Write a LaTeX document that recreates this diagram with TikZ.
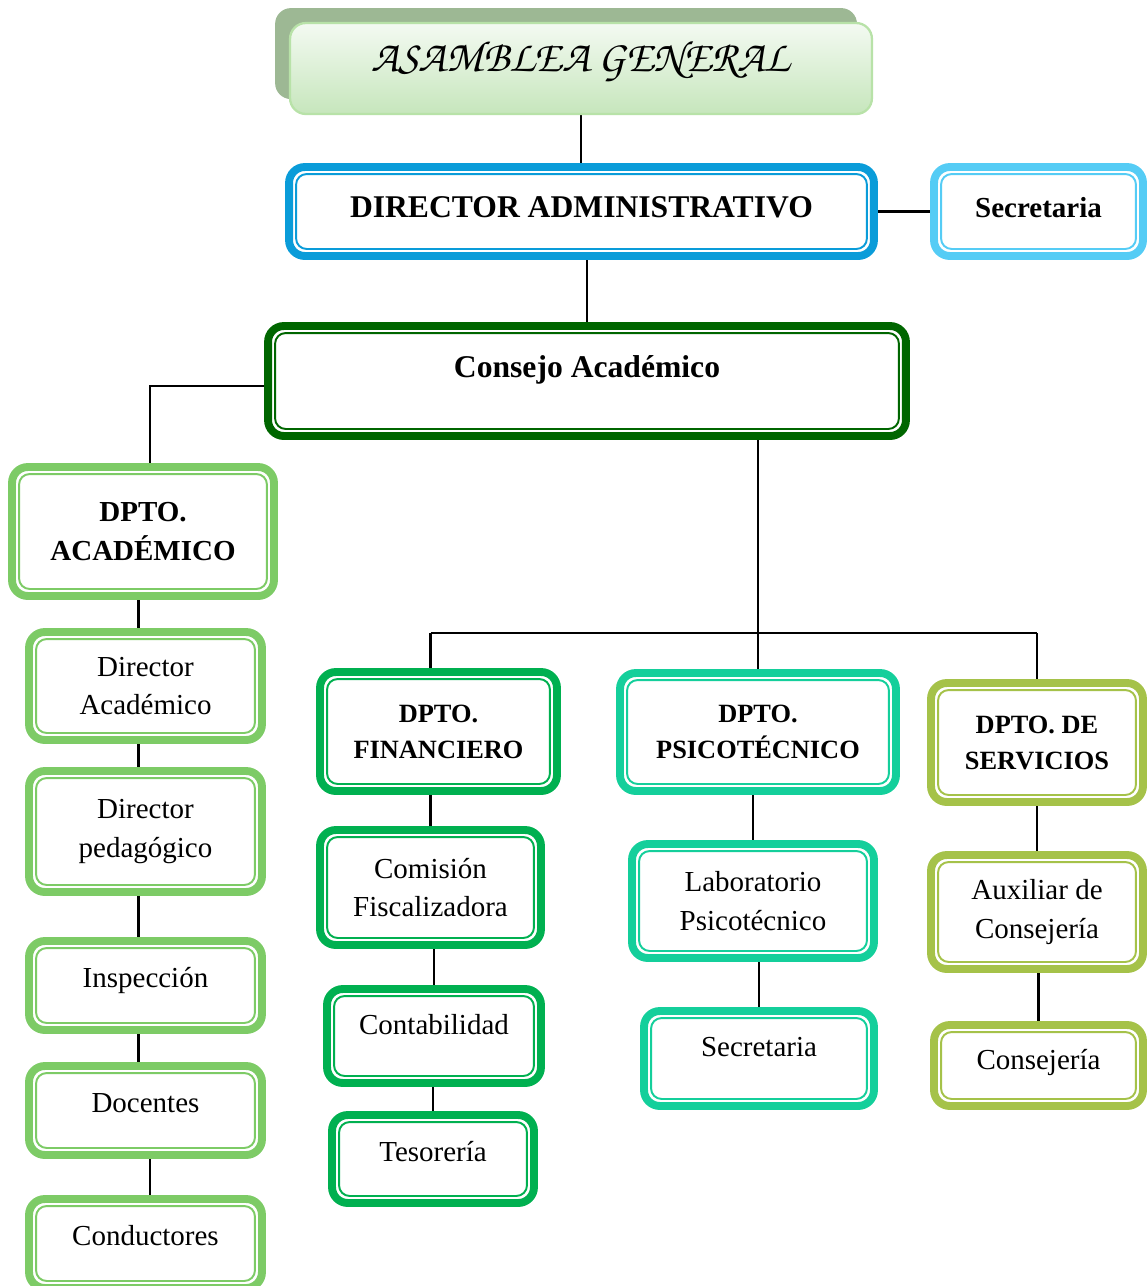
\documentclass[tikz,border=0pt]{standalone}
\usepackage[T1]{fontenc}
\usepackage{fontspec}
\setmainfont{Liberation Serif}
\usepackage{tikz}
\usetikzlibrary{backgrounds,shadows}

\definecolor{dirblue}{HTML}{0A9CD9}
\definecolor{secblue}{HTML}{55CCF5}
\definecolor{conGreen}{HTML}{006600}
\definecolor{acaGreen}{HTML}{7DCB66}
\definecolor{finGreen}{HTML}{00B050}
\definecolor{psiGreen}{HTML}{14CF9B}
\definecolor{serGreen}{HTML}{A5C249}
\definecolor{asamTop}{HTML}{F4FAF2}
\definecolor{asamBot}{HTML}{C6E6BC}
\definecolor{asamLine}{HTML}{B8E2A8}
\definecolor{asamShadow}{HTML}{9DB894}

\tikzset{
  orgbox/.style={draw=#1, line width=4.5pt, rounded corners=9pt, fill=white, align=center,
    path picture={\draw[draw=#1, line width=1.1pt, rounded corners=6pt]
      ([shift={(4pt,-4pt)}]path picture bounding box.north west) rectangle ([shift={(-4pt,4pt)}]path picture bounding box.south east);}},
  asam/.style={draw=asamLine, line width=1.3pt, rounded corners=9pt, top color=asamTop, bottom color=asamBot,
    drop shadow={shadow xshift=-8.5pt, shadow yshift=8.5pt, fill=asamShadow, opacity=1}},
  big/.style={font=\bfseries\fontsize{18}{22}\selectfont},
  head/.style={font=\bfseries\fontsize{16.5}{22}\selectfont},
  dept/.style={font=\bfseries\fontsize{15}{20.5}\selectfont},
  norm/.style={font=\fontsize{16.5}{22}\selectfont},
  conn/.style={line width=1.3pt, black},
}

\begin{document}
\begin{tikzpicture}[x=0.02cm, y=-0.02cm]
\useasboundingbox (0,0) rectangle (1148,1286);

\node[asam, minimum width=11.64cm, minimum height=1.82cm, text depth=14pt] (asam) at (581,68.5)
  {\fontencoding{T1}\fontfamily{pzc}\fontseries{mb}\fontshape{it}\fontsize{25}{30}\selectfont ASAMBLEA GENERAL};
\node[orgbox=dirblue, minimum width=11.70cm, minimum height=1.78cm, big, text depth=5pt] (dirAdm) at (581.5,211.5) {DIRECTOR ADMINISTRATIVO};
\node[orgbox=secblue, minimum width=4.18cm, minimum height=1.78cm, head, text depth=5pt] (secTop) at (1038.5,211.5) {Secretaria};
\node[orgbox=conGreen, minimum width=12.76cm, minimum height=2.20cm, big, text depth=16pt] (consejo) at (587,381) {Consejo Académico};

% departamento academico
\node[orgbox=acaGreen, minimum width=5.24cm, minimum height=2.58cm, head] (dptoAca) at (143,531.5) {DPTO.\\ACADÉMICO};
\node[orgbox=acaGreen, minimum width=4.66cm, minimum height=2.16cm, norm] (dirAca) at (145.5,686) {Director\\Académico};
\node[orgbox=acaGreen, minimum width=4.66cm, minimum height=2.42cm, norm] (dirPed) at (145.5,831.5) {Director\\pedagógico};
\node[orgbox=acaGreen, minimum width=4.66cm, minimum height=1.78cm, norm, text depth=9pt] (insp) at (145.5,985.5) {Inspección};
\node[orgbox=acaGreen, minimum width=4.66cm, minimum height=1.78cm, norm, text depth=9pt] (doc) at (145.5,1110.5) {Docentes};
\node[orgbox=acaGreen, minimum width=4.66cm, minimum height=1.78cm, norm, text depth=9pt] (cond) at (145.5,1243.5) {Conductores};

% departamento financiero
\node[orgbox=finGreen, minimum width=4.74cm, minimum height=2.38cm, dept] (dptoFin) at (438.5,731.5) {DPTO.\\FINANCIERO};
\node[orgbox=finGreen, minimum width=4.42cm, minimum height=2.30cm, norm] (comFis) at (430.5,887.5) {Comisión\\Fiscalizadora};
\node[orgbox=finGreen, minimum width=4.28cm, minimum height=1.88cm, norm, text depth=13pt] (contab) at (434,1036) {Contabilidad};
\node[orgbox=finGreen, minimum width=4.04cm, minimum height=1.76cm, norm, text depth=9pt] (tesor) at (433,1159) {Tesorería};

% departamento psicotecnico
\node[orgbox=psiGreen, minimum width=5.52cm, minimum height=2.36cm, dept] (dptoPsi) at (758,732) {DPTO.\\PSICOTÉCNICO};
\node[orgbox=psiGreen, minimum width=4.84cm, minimum height=2.28cm, norm] (labPsi) at (753,901) {Laboratorio\\Psicotécnico};
\node[orgbox=psiGreen, minimum width=4.60cm, minimum height=1.90cm, norm, text depth=13pt] (secPsi) at (759,1058.5) {Secretaria};

% departamento de servicios
\node[orgbox=serGreen, minimum width=4.24cm, minimum height=2.38cm, dept] (dptoSer) at (1037,742.5) {DPTO. DE\\SERVICIOS};
\node[orgbox=serGreen, minimum width=4.24cm, minimum height=2.28cm, norm] (auxCon) at (1037,912) {Auxiliar de\\Consejería};
\node[orgbox=serGreen, minimum width=4.18cm, minimum height=1.62cm, norm, text depth=7pt] (consej) at (1038.5,1065.5) {Consejería};

\coordinate (bus) at (756,633); % horizontal line over the three departments

\begin{scope}[on background layer]
\draw[conn] (asam.south) -- (asam.south |- dirAdm.north);
\draw[conn] (dirAdm.east) -- (secTop.west);
\draw[conn] (consejo.north) -- (consejo.north |- dirAdm.south);
\draw[conn] ([yshift=-2.8pt]consejo.west) -| ([xshift=4pt]dptoAca.north);
\draw[conn] (dptoPsi.north |- consejo.south) -- (dptoPsi.north);
\draw[conn] ([xshift=-4.5pt]dptoFin.north |- bus) -- (dptoSer.north |- bus);
\draw[conn] ([xshift=-4.5pt]dptoFin.north |- bus) -- ([xshift=-4.5pt]dptoFin.north);
\draw[conn] (dptoSer.north |- bus) -- (dptoSer.north);

\draw[conn] ([xshift=-4pt]dirAca.north) -- ([xshift=-4pt]dirAca.north |- dptoAca.south);
\draw[conn] ([xshift=-4pt]dirPed.north) -- ([xshift=-4pt]dirPed.north |- dirAca.south);
\draw[conn] ([xshift=-4pt]insp.north) -- ([xshift=-4pt]insp.north |- dirPed.south);
\draw[conn] ([xshift=-4pt]doc.north) -- ([xshift=-4pt]doc.north |- insp.south);
\draw[conn] ([xshift=2.5pt]cond.north) -- ([xshift=2.5pt]cond.north |- doc.south);

\draw[conn] (comFis.north) -- (comFis.north |- dptoFin.south);
\draw[conn] (contab.north) -- (contab.north |- comFis.south);
\draw[conn] (tesor.north) -- (tesor.north |- contab.south);

\draw[conn] (labPsi.north) -- (labPsi.north |- dptoPsi.south);
\draw[conn] (secPsi.north) -- (secPsi.north |- labPsi.south);

\draw[conn] (auxCon.north) -- (auxCon.north |- dptoSer.south);
\draw[conn] (consej.north) -- (consej.north |- auxCon.south);
\end{scope}
\end{tikzpicture}
\end{document}
